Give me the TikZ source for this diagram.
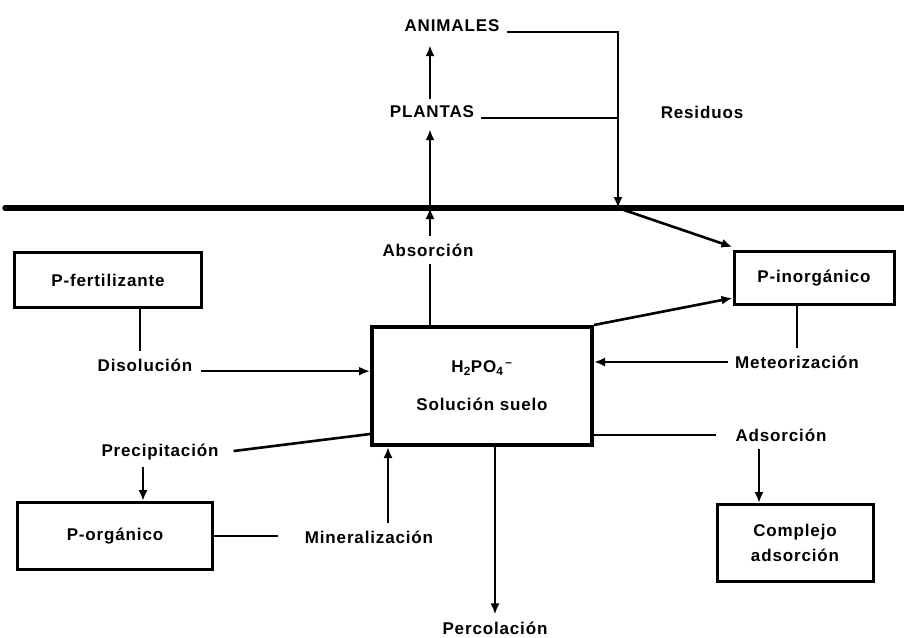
\documentclass[tikz,border=0pt]{standalone}
\usepackage{fontspec}
\setmainfont{Liberation Sans}[LetterSpace=5.0]
\usepackage{tikz}
\usetikzlibrary{arrows.meta,positioning,calc}

\tikzset{
  lbl/.style={font=\fontsize{17}{20}\selectfont\bfseries, inner sep=7pt},
  box/.style={draw, rectangle, line width=3pt, lbl, inner sep=0pt},
  flow/.style={line width=2.6pt},
  tip/.style={flow, -{Latex[length=11pt,width=9pt]}},
  ground/.style={line width=5.5pt, line cap=round}
}

\begin{document}
\begin{tikzpicture}[x=1pt, y=-1pt]
\useasboundingbox (0,0) rectangle (904,637);
\node[lbl] (animales) at (452,26) {ANIMALES};
\node[lbl] (plantas) at (432,112) {PLANTAS};
\node[lbl] (residuos) at (702,112) {Residuos};
\coordinate (gl) at (5,208);
\coordinate (gr) at (904,208);
\coordinate (cross) at (430,208);
\coordinate (hit) at (618,208);
\draw[ground] (gl) -- (gr);
\node[lbl] (absorcion) at (428,250) {Absorción};
\node[box, minimum width=187pt, minimum height=55pt] (pfert) at (108,280) {P-fertilizante};
\node[box, minimum width=160pt, minimum height=53pt] (pinorg) at (814,278) {P-inorgánico};
\node[box, line width=4pt, minimum width=220pt, minimum height=118pt, align=center] (sol) at (482,386)
  {H\textsubscript{2}PO\textsubscript{4}\textsuperscript{\,--}\\[18pt]Solución suelo};
\node[lbl] (disolucion) at (145,365) {Disolución};
\node[lbl] (meteor) at (797,362) {Meteorización};
\node[lbl] (adsorcion) at (781,435) {Adsorción};
\node[box, minimum width=156pt, minimum height=77pt, align=center] (complejo) at (795,543)
  {Complejo\\[5pt]adsorción};
\node[lbl] (precip) at (160,452) {Precipitación};
\node[box, minimum width=195pt, minimum height=67pt] (porg) at (115,536) {P-orgánico};
\node[lbl] (mineral) at (369,537) {Mineralización};
\node[lbl] (percol) at (495,628) {Percolación};
\draw[tip] (animales.base east) -| (hit);
\draw[flow] (plantas.base east) -- (plantas.base east -| hit);
\draw[tip, shorten >=6pt] (cross |- plantas.north) -- (cross |- animales.south);
\draw[tip] (absorcion.north -| cross) -- (cross);
\draw[tip, shorten >=4pt] (cross) -- (cross |- plantas.south);
\draw[flow] (sol.north -| cross) -- (absorcion.south -| cross);
\draw[tip] (hit) -- ([yshift=3pt]pinorg.north west);
\draw[tip] (sol.north east) -- ([yshift=8pt]pinorg.south west);
\draw[flow] (meteor.north) -- (meteor.north |- pinorg.south);
\draw[tip] (meteor.west) -- (meteor.west -| sol.east);
\draw[flow, shorten >=12pt] (sol.east |- adsorcion) -- (adsorcion.west);
\draw[tip] ([xshift=-22pt]adsorcion.south) -- ([xshift=-22pt]adsorcion.south |- complejo.north);
\draw[flow] ([xshift=-5pt]disolucion.north) -- ([xshift=-5pt]disolucion.north |- pfert.south);
\draw[tip, shorten <=2pt] (disolucion.base east) -- (disolucion.base east -| sol.west);
\draw[flow, shorten <=8pt] (precip.east) -- ([yshift=13pt]sol.south west);
\draw[tip] ([xshift=-17pt]precip.south) -- ([xshift=-17pt]precip.south |- porg.north);
\draw[flow, shorten >=20pt] (porg.east) -- (porg.east -| mineral.west);
\draw[tip] ([xshift=19pt]mineral.north) -- ([xshift=19pt]mineral.north |- sol.south);
\draw[tip] (percol.north |- sol.south) -- (percol.north);
\end{tikzpicture}
\end{document}
